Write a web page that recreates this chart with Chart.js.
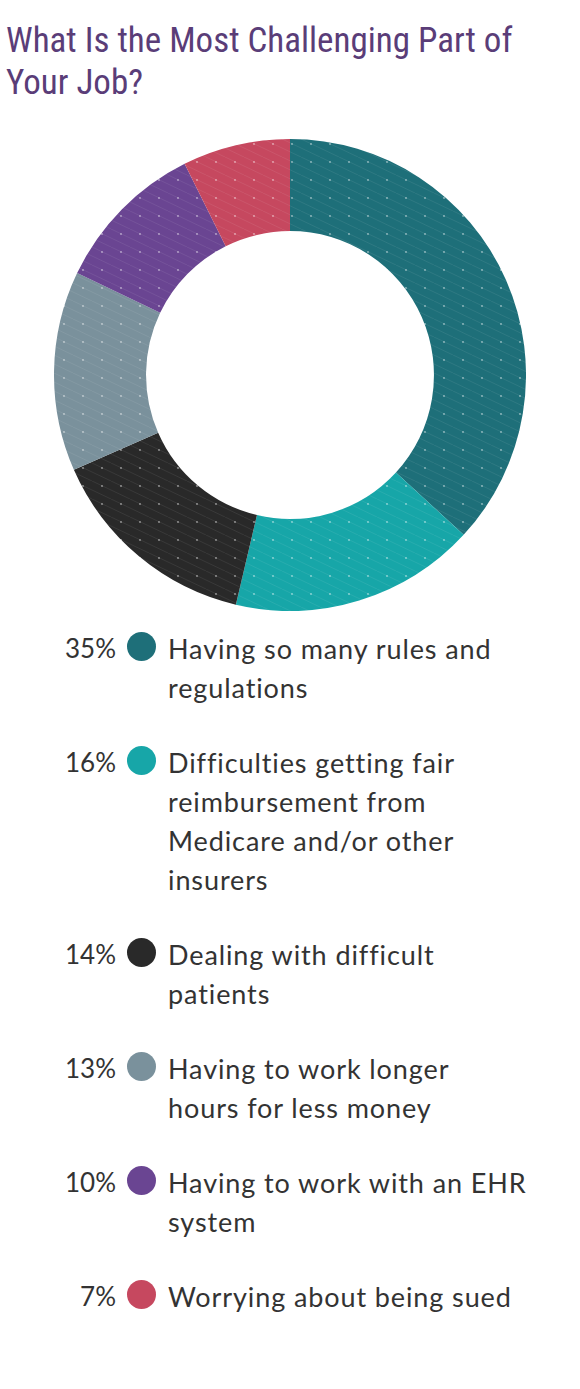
<!DOCTYPE html>
<html>
<head>
<meta charset="utf-8">
<script src="https://cdn.jsdelivr.net/npm/chart.js@4/dist/chart.umd.min.js"></script>
<style>
  body { margin: 0; background: #fff; width: 580px; height: 1389px; position: relative; overflow: hidden; }
  #title {
    position: absolute; left: 6px; top: 20px; margin: 0;
    font-family: "Roboto Condensed", "Liberation Sans Narrow", "DejaVu Sans Condensed", sans-serif;
    font-weight: normal; font-size: 35px; line-height: 42px; color: #5a3d78;
  }
  #chartbox { position: absolute; left: 54px; top: 139px; width: 472px; height: 472px; }
  #legend {
    position: absolute; left: 0; top: 629px; width: 580px;
    font-family: Lato, "Open Sans", sans-serif; font-size: 27px; line-height: 39px; color: #333;
    letter-spacing: 0.9px; white-space: nowrap;
  }
  .item { position: relative; margin-bottom: 36px; }
  .pct { position: absolute; left: 0; width: 116px; text-align: right; top: 0; letter-spacing: 0; font-size: 26px; }
  .dot { position: absolute; left: 127px; top: 3px; width: 29px; height: 29px; border-radius: 50%; }
  .txt { margin-left: 168px; }
</style>
</head>
<body>
<h1 id="title">What Is the Most Challenging Part of<br>Your Job?</h1>
<div id="chartbox"><canvas id="pie" width="472" height="472"></canvas></div>
<div id="legend"></div>
<script>
const labels = [
  'Having so many rules and regulations',
  'Difficulties getting fair reimbursement from Medicare and/or other insurers',
  'Dealing with difficult patients',
  'Having to work longer hours for less money',
  'Having to work with an EHR system',
  'Worrying about being sued'
];
// how the legend text wraps in the picture
const legendLines = [
  ['Having so many rules and', 'regulations'],
  ['Difficulties getting fair', 'reimbursement from', 'Medicare and/or other', 'insurers'],
  ['Dealing with difficult', 'patients'],
  ['Having to work longer', 'hours for less money'],
  ['Having to work with an EHR', 'system'],
  ['Worrying about being sued']
];
const values = [35, 16, 14, 13, 10, 7];
const colors = ['#1e6f79', '#17a6a8', '#292929', '#7a919c', '#6a4592', '#c6485f'];

// faint diagonal dotted texture seen on the slices
function makePattern(color) {
  const c = document.createElement('canvas');
  c.width = 19;
  c.height = 18;
  const g = c.getContext('2d');
  g.fillStyle = color;
  g.fillRect(0, 0, 19, 18);
  g.strokeStyle = 'rgba(255,255,255,0.08)';
  g.lineWidth = 1;
  g.beginPath();
  g.moveTo(0, 0);
  g.lineTo(19, 9);
  g.moveTo(0, 9);
  g.lineTo(19, 18);
  g.stroke();
  g.fillStyle = 'rgba(255,255,255,0.35)';
  g.fillRect(9, 4, 2, 2);
  return g.createPattern(c, 'repeat');
}

const ctx = document.getElementById('pie').getContext('2d');
new Chart(ctx, {
  type: 'doughnut',
  data: {
    labels: labels,
    datasets: [{
      data: values,
      backgroundColor: colors.map(makePattern),
      borderWidth: 0
    }]
  },
  options: {
    responsive: false,
    animation: false,
    cutout: '61%',
    layout: { padding: 0 },
    plugins: {
      legend: { display: false },
      tooltip: { enabled: false }
    }
  }
});

// html legend under the chart
const legend = document.getElementById('legend');
labels.forEach((lab, i) => {
  const item = document.createElement('div');
  item.className = 'item';
  item.innerHTML = `<span class="pct">${values[i]}%</span>` +
    `<span class="dot" style="background:${colors[i]}"></span>` +
    `<div class="txt">${legendLines[i].join('<br>')}</div>`;
  legend.appendChild(item);
});
</script>
</body>
</html>
